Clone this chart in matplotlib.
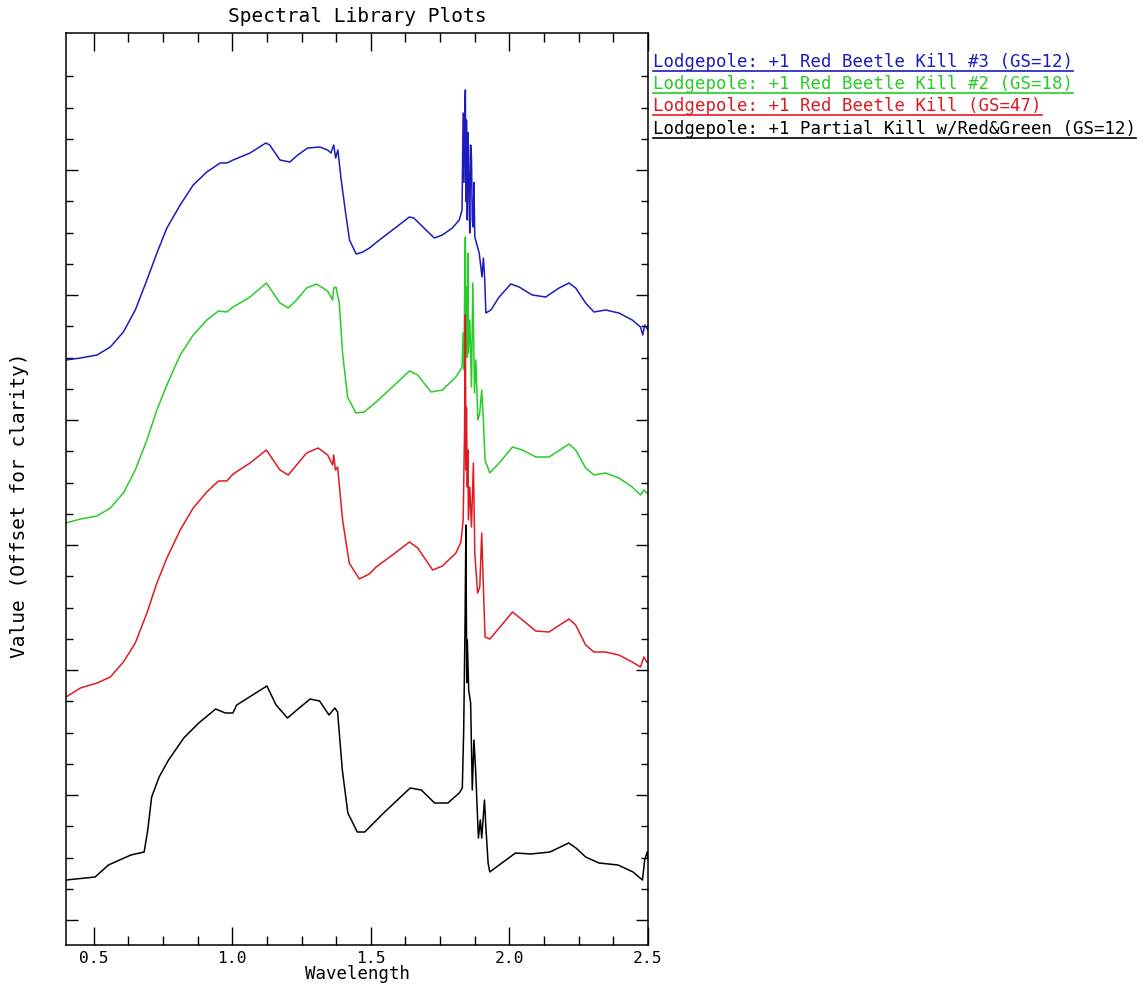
import matplotlib.pyplot as plt
import numpy as np
from matplotlib.lines import Line2D

# spectra (wavelength in micrometres, value already offset for clarity)
wl_blue = [0.40, 0.452, 0.512, 0.56, 0.607, 0.65, 0.692, 0.728, 0.764, 0.812, 0.859, 0.908,
           0.956, 0.98, 1.003, 1.064, 1.121, 1.135, 1.172, 1.208, 1.236, 1.272, 1.316, 1.344,
           1.356, 1.366, 1.373, 1.381, 1.393, 1.409, 1.423, 1.447, 1.471, 1.495, 1.531, 1.578,
           1.639, 1.655, 1.699, 1.729, 1.758, 1.794, 1.819, 1.829, 1.833, 1.836, 1.839, 1.841,
           1.843, 1.845, 1.848, 1.850, 1.852, 1.855, 1.857, 1.860, 1.863, 1.866, 1.869, 1.872,
           1.875, 1.891, 1.901, 1.906, 1.911, 1.915, 1.933, 1.963,
           2.005, 2.035, 2.082, 2.131, 2.179, 2.215, 2.239, 2.275, 2.305, 2.347, 2.395, 2.443,
           2.473, 2.481, 2.488, 2.495, 2.5]
val_blue = [4.48, 4.496, 4.52, 4.584, 4.704, 4.88, 5.12, 5.336, 5.536, 5.72, 5.88, 5.984,
            6.056, 6.056, 6.08, 6.136, 6.216, 6.2, 6.08, 6.064, 6.12, 6.176, 6.184, 6.16,
            6.136, 6.2, 6.096, 6.16, 5.92, 5.656, 5.44, 5.328, 5.344, 5.376, 5.44, 5.52,
            5.624, 5.616, 5.52, 5.456, 5.48, 5.536, 5.6, 5.68, 6.456, 5.9, 6.5, 6.64,
            5.75, 6.4, 5.6, 6.3, 6.184, 5.7, 5.496, 6.2, 6.104, 5.6, 5.544, 5.9,
            5.464, 5.336, 5.144, 5.296, 5.12, 4.856, 4.88, 4.984,
            5.088, 5.064, 5.0, 4.984, 5.056, 5.096, 5.056, 4.936, 4.864, 4.88, 4.856, 4.8,
            4.744, 4.68, 4.76, 4.736, 4.72]

wl_green = [0.40, 0.452, 0.512, 0.56, 0.607, 0.65, 0.692, 0.728, 0.764, 0.812, 0.859, 0.908,
            0.95, 0.98, 1.003, 1.064, 1.123, 1.172, 1.202, 1.232, 1.268, 1.304, 1.344, 1.362,
            1.366, 1.374, 1.386, 1.398, 1.416, 1.446, 1.476, 1.519, 1.578, 1.639, 1.669, 1.717,
            1.758, 1.807, 1.829, 1.833, 1.836, 1.839, 1.841, 1.843, 1.845, 1.848, 1.850, 1.852,
            1.857, 1.863, 1.868, 1.874,
            1.879, 1.886, 1.893, 1.9, 1.906, 1.912, 1.929, 1.963, 2.011, 2.047, 2.095, 2.143,
            2.215, 2.239, 2.275, 2.305, 2.347, 2.395, 2.443, 2.473, 2.485, 2.495, 2.5]
val_green = [3.176, 3.208, 3.232, 3.296, 3.416, 3.6, 3.84, 4.08, 4.28, 4.52, 4.68, 4.8,
             4.872, 4.864, 4.904, 4.984, 5.096, 4.936, 4.896, 4.96, 5.056, 5.088, 5.032, 4.96,
             5.056, 5.064, 4.936, 4.536, 4.184, 4.056, 4.064, 4.144, 4.264, 4.392, 4.36, 4.224,
             4.24, 4.344, 4.424, 4.696, 4.4, 5.2, 5.464, 4.6, 5.064, 4.5, 5.336, 4.536,
             4.8, 4.264, 5.096, 4.216,
             4.48, 4.0, 4.056, 4.24, 4.0, 3.68, 3.576, 3.656, 3.784, 3.76, 3.704, 3.704,
             3.808, 3.76, 3.616, 3.56, 3.576, 3.536, 3.464, 3.4, 3.44, 3.416, 3.42]

wl_red = [0.40, 0.452, 0.512, 0.56, 0.607, 0.65, 0.692, 0.728, 0.764, 0.812, 0.859, 0.908,
          0.95, 0.98, 1.003, 1.064, 1.123, 1.172, 1.202, 1.232, 1.268, 1.31, 1.344, 1.362,
          1.366, 1.372, 1.38, 1.398, 1.422, 1.458, 1.494, 1.519, 1.578, 1.639, 1.669, 1.723,
          1.758, 1.807, 1.825, 1.833, 1.838, 1.841, 1.843, 1.845, 1.848, 1.850, 1.852, 1.857,
          1.863, 1.87, 1.875,
          1.885, 1.893, 1.9, 1.906, 1.912, 1.929, 1.963, 2.011, 2.047, 2.095, 2.143, 2.215,
          2.239, 2.275, 2.305, 2.347, 2.395, 2.443, 2.473, 2.485, 2.495, 2.5]
val_red = [1.784, 1.856, 1.896, 1.944, 2.064, 2.216, 2.456, 2.696, 2.896, 3.12, 3.296, 3.424,
           3.512, 3.512, 3.568, 3.656, 3.76, 3.6, 3.56, 3.64, 3.736, 3.776, 3.72, 3.64,
           3.72, 3.6, 3.624, 3.2, 2.856, 2.728, 2.768, 2.824, 2.92, 3.024, 2.976, 2.8,
           2.832, 2.936, 3.024, 3.2, 3.9, 4.84, 3.6, 4.1, 3.464, 3.76, 3.2, 3.464,
           3.144, 3.656, 2.936,
           2.616, 2.664, 3.096, 2.664, 2.264, 2.248, 2.336, 2.464, 2.4, 2.312, 2.304, 2.408,
           2.36, 2.2, 2.144, 2.144, 2.12, 2.064, 2.024, 2.104, 2.064, 2.07]

wl_black = [0.40, 0.505, 0.553, 0.634, 0.682, 0.695, 0.709, 0.736, 0.77, 0.825, 0.879, 0.94,
            0.975, 1.002, 1.016, 1.125, 1.158, 1.199, 1.233, 1.281, 1.315, 1.349, 1.37, 1.38,
            1.397, 1.417, 1.451, 1.478, 1.546, 1.642, 1.682, 1.73, 1.778, 1.819, 1.83, 1.835,
            1.840, 1.843, 1.846, 1.848, 1.853, 1.86, 1.866, 1.872, 1.878, 1.888, 1.895, 1.9,
            1.91, 1.915,
            1.923, 1.929, 1.953, 2.022, 2.077, 2.146, 2.214, 2.24, 2.275, 2.323, 2.392, 2.446,
            2.48, 2.488, 2.497, 2.5]
val_black = [0.32, 0.344, 0.44, 0.52, 0.544, 0.72, 0.984, 1.144, 1.28, 1.456, 1.576, 1.688,
             1.656, 1.656, 1.72, 1.872, 1.72, 1.616, 1.68, 1.768, 1.752, 1.64, 1.696, 1.664,
             1.2, 0.856, 0.704, 0.704, 0.856, 1.056, 1.04, 0.936, 0.936, 1.016, 1.056, 1.52,
             2.4, 3.16, 1.9, 2.24, 1.84, 1.736, 1.04, 1.44, 1.2, 0.656, 0.8, 0.656,
             0.96, 0.744,
             0.456, 0.384, 0.424, 0.536, 0.528, 0.544, 0.616, 0.576, 0.504, 0.456, 0.44, 0.384,
             0.32, 0.48, 0.544, 0.496]

names = ['Lodgepole: +1 Red Beetle Kill #3 (GS=12)',
         'Lodgepole: +1 Red Beetle Kill #2 (GS=18)',
         'Lodgepole: +1 Red Beetle Kill (GS=47)',
         'Lodgepole: +1 Partial Kill w/Red&Green (GS=12)']
colors = ['#1c1cbc', '#28cc28', '#dd1c22', '#000000']

x_major = [0.5, 1.0, 1.5, 2.0, 2.5]
x_minor = np.arange(0.625, 2.5, 0.125)
y_major = [0, 1, 2, 3, 4, 5, 6]
y_minor = np.arange(0.0, 6.8, 0.25)

plt.rcParams['font.family'] = 'DejaVu Sans Mono'
fig = plt.figure(figsize=(11.45, 9.86), dpi=100)
W, H = 1145, 986
ax = fig.add_axes([66 / W, 1 - 945 / H, 582 / W, 912 / H])

series = [(wl_blue, val_blue), (wl_green, val_green), (wl_red, val_red), (wl_black, val_black)]
for (x, y), c in zip(series, colors):
    ax.plot(x, y, color=c, lw=1.1)

ax.set_xlim(0.4, 2.5)
ax.set_ylim(-0.2, 7.096)
ax.set_xticks(x_major)
ax.set_xticklabels(['%.1f' % v for v in x_major])
ax.set_xticks(x_minor, minor=True)
ax.set_yticks(y_major)
ax.set_yticks([v for v in y_minor if v not in y_major], minor=True)
ax.set_yticklabels([])
ax.tick_params(axis='both', which='both', direction='in', top=True, right=True,
               width=1.0, color='black')
ax.tick_params(axis='x', which='major', length=13, labelsize=11.8, pad=4)
ax.tick_params(axis='x', which='minor', length=6.5)
ax.tick_params(axis='y', which='major', length=8.5)
ax.tick_params(axis='y', which='minor', length=5)
for s in ax.spines.values():
    s.set_linewidth(1.1)

fig.text(357 / W, 1 - 17 / H, 'Spectral Library Plots', ha='center', va='center', fontsize=14)
fig.text(357 / W, 1 - 974 / H, 'Wavelength', ha='center', va='center', fontsize=12.5)
fig.text(20 / W, 1 - 505 / H, 'Value (Offset for clarity)', ha='center', va='center',
         rotation=90, fontsize=14)

# legend entries: coloured text with an underline
baselines = [67, 89, 111, 134]
texts = []
for name, c, b in zip(names, colors, baselines):
    t = fig.text(653 / W, 1 - b / H, name, color=c, fontsize=12.5, ha='left', va='baseline')
    texts.append(t)
fig.canvas.draw()
r = fig.canvas.get_renderer()
for t, c, b in zip(texts, colors, baselines):
    bb = t.get_window_extent(r)
    yl = 1 - (b + 3.5) / H
    fig.add_artist(Line2D([bb.x0 / W, bb.x1 / W], [yl, yl], color=c, lw=1.2,
                          transform=fig.transFigure))

fig.savefig('out.png', dpi=100)
